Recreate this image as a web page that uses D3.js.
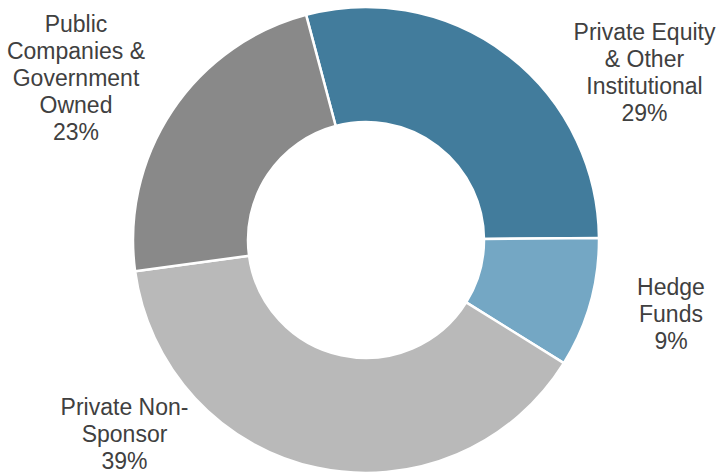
<!DOCTYPE html>
<html>
<head>
<meta charset="utf-8">
<script src="https://cdn.jsdelivr.net/npm/d3@7"></script>
<style>
    body { margin: 0; background: #fff; }
    text { font-family: "Liberation Sans", Arial, sans-serif; }
</style>
</head>
<body>
<svg id="chart" width="719" height="474"></svg>
<script>

// data
const categories = ['Private Equity & Other Institutional', 'Hedge Funds', 'Private Non-Sponsor', 'Public Companies & Government Owned'];
const shares = [29, 9, 39, 23];
const labelLines = [
    ['Private Equity', '& Other', 'Institutional'],
    ['Hedge', 'Funds'],
    ['Private Non-', 'Sponsor'],
    ['Public', 'Companies &', 'Government', 'Owned']
];
const colors = ['#427c9c', '#74a7c4', '#b9b9b9', '#898989'];

// layout
let _cx = 366;
let _cy = 240;
let _outer = 233;
let _inner = 118;
let _startAngle = -0.26;
let _lineHeight = 27;
// label anchor (x, first baseline) relative to centre
let _labelOffsets = [[278.5, -200.5], [305, 54.5], [-241.5, 174.5], [-290, -208.5]];

let svg = d3.select('#chart');

let root = svg.append('g')
    .attr('transform', `translate(${_cx},${_cy})`);

let pie = d3.pie()
    .sort(null)
    .startAngle(_startAngle)
    .endAngle(_startAngle + 2 * Math.PI)
    .value(d => d);

let arc = d3.arc()
    .innerRadius(_inner)
    .outerRadius(_outer);

let arcs = pie(shares);

root.selectAll('.slice')
    .data(arcs)
    .enter()
    .append('path')
    .attr('class', 'slice')
    .attr('d', arc)
    .attr('fill', (d, i) => colors[i])
    .attr('stroke', '#fff')
    .attr('stroke-width', 2.5)
    .attr('stroke-linejoin', 'round');

let labelGroup = root.selectAll('.label')
    .data(arcs)
    .enter()
    .append('text')
    .attr('class', 'label')
    .attr('text-anchor', 'middle')
    .attr('font-size', 23)
    .attr('fill', '#404040');

labelGroup.each(function (d, i) {
    let t = d3.select(this);
    let lines = labelLines[i].concat([d.data + '%']);
    t.selectAll('tspan')
        .data(lines)
        .enter()
        .append('tspan')
        .attr('x', _labelOffsets[i][0])
        .attr('y', (l, j) => _labelOffsets[i][1] + j * _lineHeight)
        .text(l => l);
});

</script>
</body>
</html>
